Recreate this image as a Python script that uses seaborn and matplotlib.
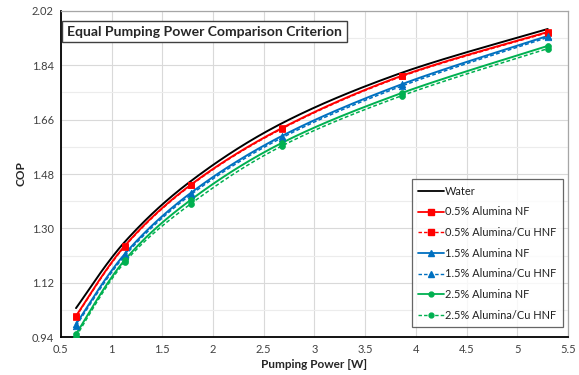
import numpy as np
import pandas as pd
import matplotlib
matplotlib.use("Agg")
import matplotlib.pyplot as plt
import seaborn as sns
from matplotlib.lines import Line2D

# ---- data ----
pumping_power = [0.65, 1.13, 1.78, 2.68, 3.86, 5.30]
cop_water = [1.036, 1.255, 1.456, 1.648, 1.815, 1.960]
cop_05_nf = [1.010, 1.242, 1.444, 1.632, 1.805, 1.950]
cop_05_hnf = [1.008, 1.240, 1.442, 1.630, 1.803, 1.948]
cop_15_nf = [0.983, 1.215, 1.417, 1.606, 1.777, 1.937]
cop_15_hnf = [0.977, 1.209, 1.411, 1.600, 1.771, 1.932]
cop_25_nf = [0.950, 1.195, 1.394, 1.583, 1.748, 1.904]
cop_25_hnf = [0.942, 1.188, 1.381, 1.573, 1.739, 1.895]
series_names = ["Water", "0.5% Alumina NF", "0.5% Alumina/Cu HNF",
                "1.5% Alumina NF", "1.5% Alumina/Cu HNF",
                "2.5% Alumina NF", "2.5% Alumina/Cu HNF"]
x_ticks = [0.5, 1, 1.5, 2, 2.5, 3, 3.5, 4, 4.5, 5, 5.5]
y_ticks = [0.94, 1.12, 1.30, 1.48, 1.66, 1.84, 2.02]

series_values = [cop_water, cop_05_nf, cop_05_hnf, cop_15_nf, cop_15_hnf, cop_25_nf, cop_25_hnf]
styles = {
    "Water": dict(color="#000000", ls="-", marker=None, ms=0),
    "0.5% Alumina NF": dict(color="#FF0000", ls="-", marker="s", ms=4),
    "0.5% Alumina/Cu HNF": dict(color="#FF0000", ls=(0, (2.5, 1.5)), marker="s", ms=4),
    "1.5% Alumina NF": dict(color="#0070C0", ls="-", marker="^", ms=4.5),
    "1.5% Alumina/Cu HNF": dict(color="#0070C0", ls=(0, (2.5, 1.5)), marker="^", ms=4.5),
    "2.5% Alumina NF": dict(color="#00B050", ls="-", marker="o", ms=3.5),
    "2.5% Alumina/Cu HNF": dict(color="#00B050", ls=(0, (2.5, 1.5)), marker="o", ms=3.5),
}

df = pd.DataFrame({
    "Pumping Power": np.tile(pumping_power, len(series_names)),
    "COP": np.concatenate(series_values),
    "Series": np.repeat(series_names, len(pumping_power)),
})


def smooth(xs, ys, n=30):
    # Excel-style smoothed line (Bezier through points)
    P = np.column_stack([xs, ys]).astype(float)
    out = []
    for i in range(len(P) - 1):
        p0 = P[i - 1] if i > 0 else P[i]
        p1, p2 = P[i], P[i + 1]
        p3 = P[i + 2] if i + 2 < len(P) else P[i + 1]
        c1 = p1 + (p2 - p0) / 6
        c2 = p2 - (p3 - p1) / 6
        t = np.linspace(0, 1, n)[:, None]
        seg = (1 - t) ** 3 * p1 + 3 * (1 - t) ** 2 * t * c1 + 3 * (1 - t) * t ** 2 * c2 + t ** 3 * p2
        out.append(seg if i == 0 else seg[1:])
    out = np.vstack(out)
    return out[:, 0], out[:, 1]


sns.set_style("white")
plt.rcParams["font.family"] = ["Lato", "DejaVu Sans"]

fig = plt.figure(figsize=(5.79, 3.75), dpi=100)
ax = fig.add_axes([0.105, 0.101, 0.876, 0.870])

for name in series_names:
    st = styles[name]
    sub = df[df["Series"] == name]
    sx, sy = smooth(sub["Pumping Power"].values, sub["COP"].values)
    dashed = st["ls"] != "-"
    ax.plot(sx, sy, color=st["color"], ls=st["ls"], lw=1.1 if dashed else 1.4, zorder=3)
    if st["marker"]:
        sns.scatterplot(data=sub, x="Pumping Power", y="COP", ax=ax, color=st["color"],
                        marker=st["marker"], s=22 if st["marker"] != "o" else 18,
                        edgecolor=st["color"], linewidth=0.5, zorder=4, legend=False)

ax.set_xlim(0.5, 5.5)
ax.set_ylim(0.94, 2.02)
ax.set_xticks(x_ticks)
ax.set_xticklabels([f"{v:g}" for v in x_ticks])
ax.set_yticks(y_ticks)
ax.set_yticklabels([f"{v:.2f}" for v in y_ticks])
ax.set_yticks(np.arange(0.94, 2.021, 0.09), minor=True)
ax.grid(True, which="major", color="#d9d9d9", lw=0.8)
ax.grid(True, which="minor", axis="y", color="#ececec", lw=0.8)
ax.set_axisbelow(True)
ax.tick_params(axis="both", which="both", length=0, labelsize=8, colors="#404040", pad=5)

for s in ["top", "right"]:
    ax.spines[s].set_color("#a6a6a6")
    ax.spines[s].set_linewidth(0.9)
for s in ["left", "bottom"]:
    ax.spines[s].set_color("#000000")
    ax.spines[s].set_linewidth(1.3)

ax.set_xlabel("Pumping Power [W]", fontsize=8.5, fontweight="bold", labelpad=3)
ax.set_ylabel("COP", fontsize=8.5, fontweight="bold", labelpad=4)

ax.text(0.012, 0.955, "Equal Pumping Power Comparison Criterion", transform=ax.transAxes,
        fontsize=10.1, fontweight="bold", va="top", ha="left", zorder=6,
        bbox=dict(boxstyle="square,pad=0.33", facecolor="white", edgecolor="#404040", lw=1.0))

handles = []
for name in series_names:
    st = styles[name]
    dashed = st["ls"] != "-"
    handles.append(Line2D([0], [0], color=st["color"], ls=st["ls"], lw=1.0 if dashed else 1.3,
                          marker=st["marker"], markersize=st["ms"]))
leg = ax.legend(handles, series_names, loc="upper left", bbox_to_anchor=(0.692, 0.484),
                fontsize=7.9, frameon=True, fancybox=False, edgecolor="#404040",
                handlelength=2.3, handletextpad=0.15, labelspacing=0.88, borderpad=0.6,
                borderaxespad=0)
leg.get_frame().set_linewidth(0.9)
for t in leg.get_texts():
    t.set_color("#202020")

fig.savefig("out.png", dpi=100)
